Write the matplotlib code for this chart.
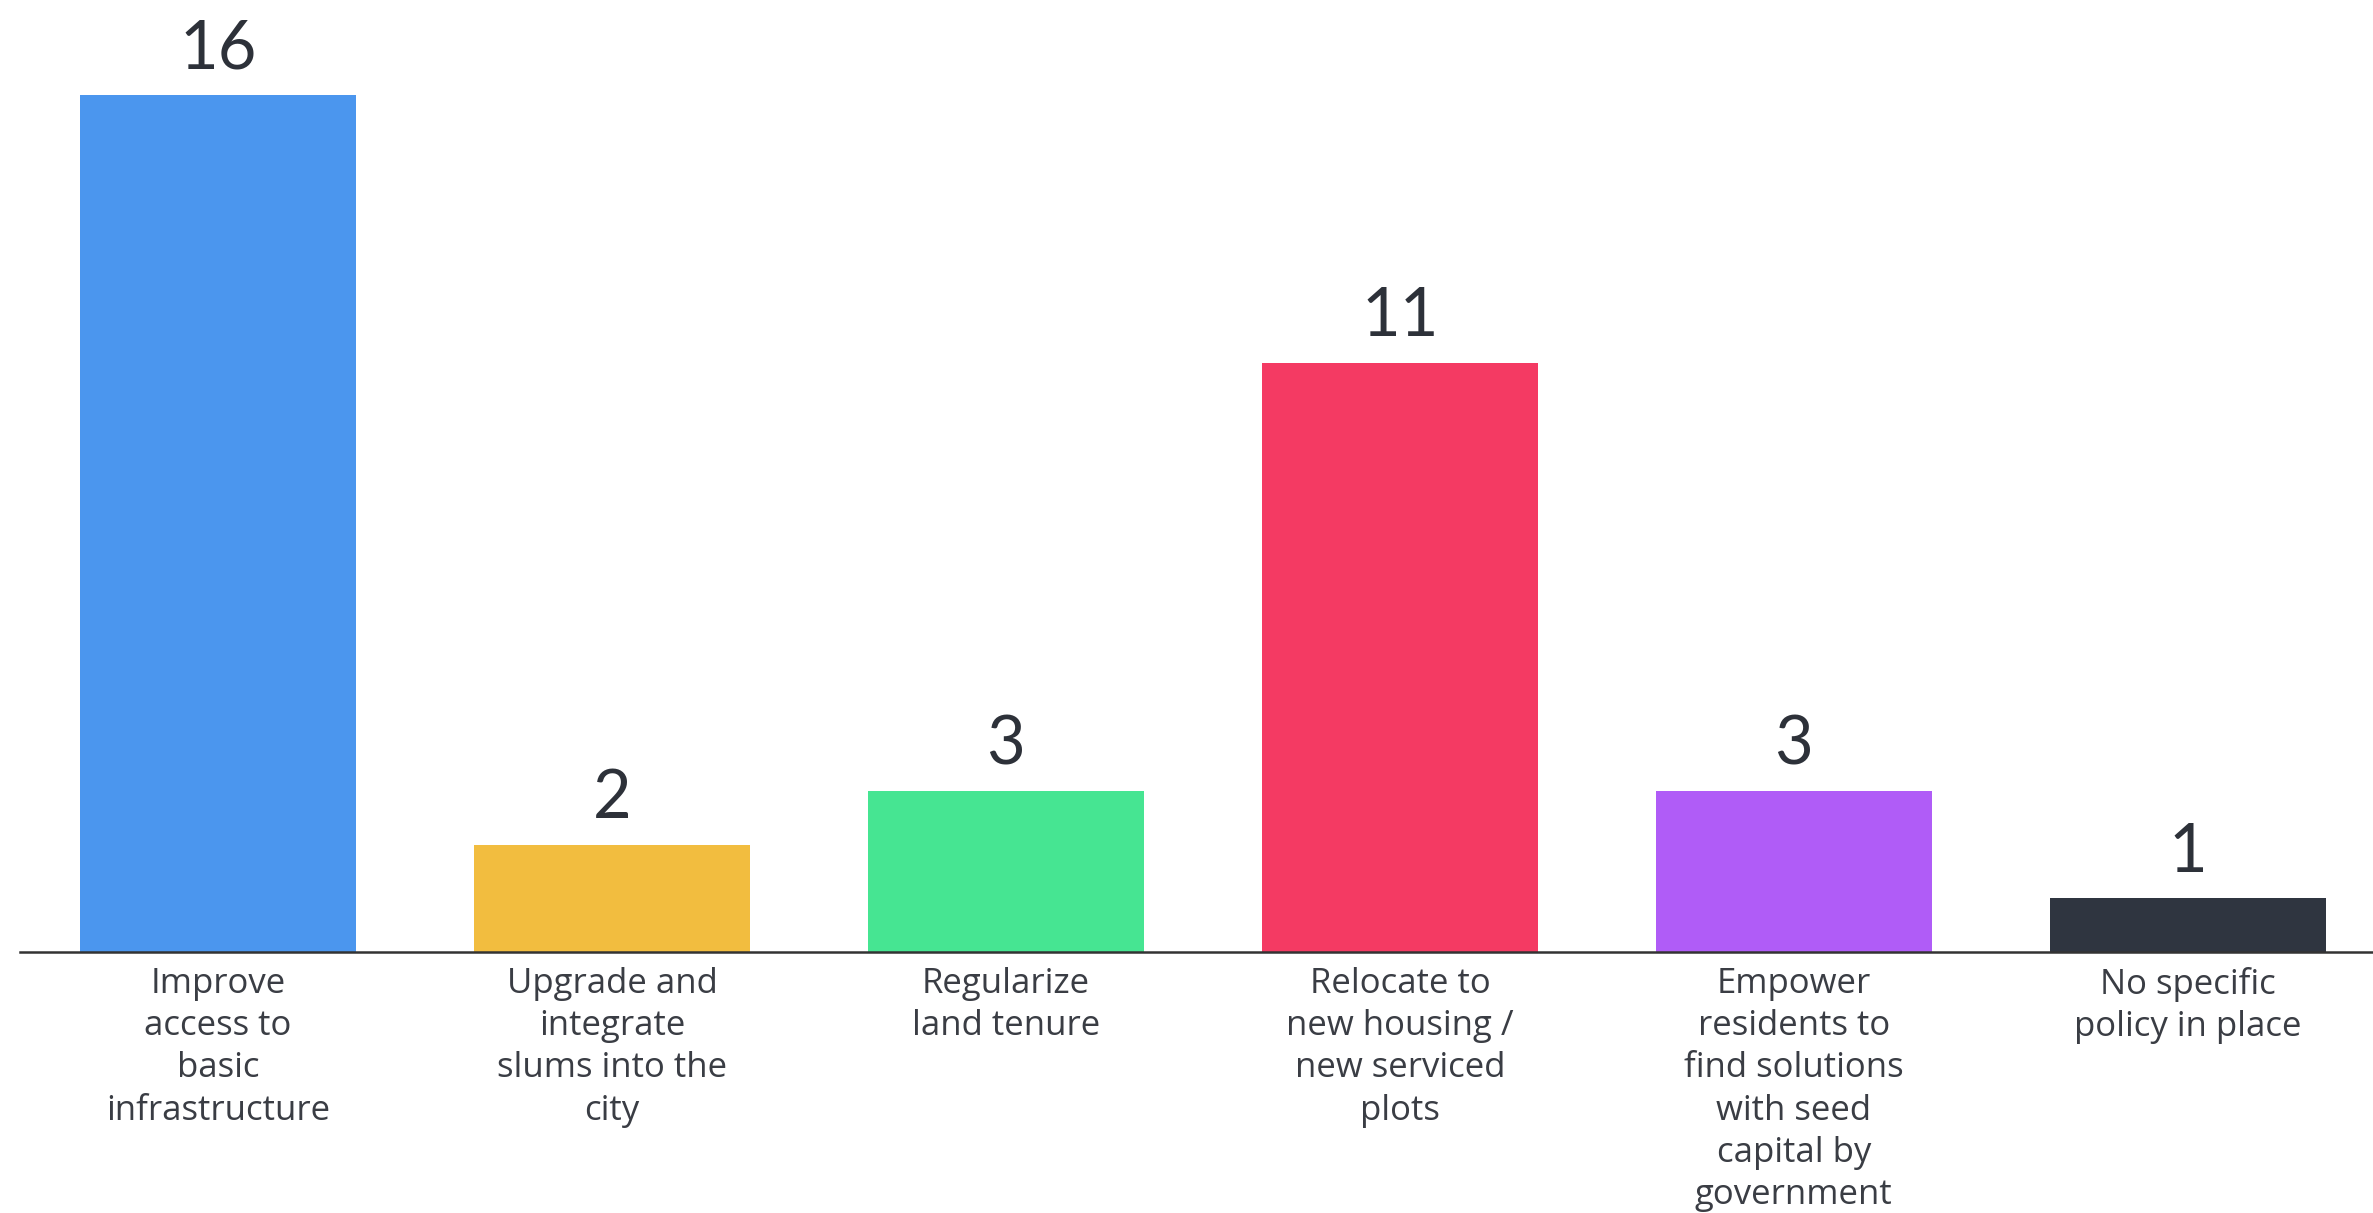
#!/usr/bin/env python3
"""Bar chart: policies towards informal settlements (count of responses)."""
import matplotlib
matplotlib.use("Agg")
import matplotlib.pyplot as plt

CATEGORIES = [
    "Improve\naccess to\nbasic\ninfrastructure",
    "Upgrade and\nintegrate\nslums into the\ncity",
    "Regularize\nland tenure",
    "Relocate to\nnew housing /\nnew serviced\nplots",
    "Empower\nresidents to\nfind solutions\nwith seed\ncapital by\ngovernment",
    "No specific\npolicy in place",
]
VALUES = [16, 2, 3, 11, 3, 1]
COLORS = ["#4b96ee", "#f2bd3f", "#46e592", "#f43a63", "#b05cf7", "#2f3540"]

W, H = 2373, 1213
DPI = 100


def main():
    plt.rcParams["font.family"] = ["Lato", "DejaVu Sans"]
    fig = plt.figure(figsize=(W / DPI, H / DPI), dpi=DPI)
    base_px = 952
    ax = fig.add_axes([20 / W, (H - base_px) / H, 1 - 20 / W, 942.7 / H])

    x = list(range(len(VALUES)))
    bars = ax.bar(x, VALUES, width=0.7, color=COLORS, zorder=2)
    for b, v in zip(bars, VALUES):
        ax.annotate(str(v), (b.get_x() + b.get_width() / 2, v),
                    xytext=(0, 19), textcoords="offset points",
                    ha="center", va="baseline", fontsize=48,
                    color="#2d3139")

    ax.set_xlim(-0.5025, 5.47)
    ax.set_ylim(0, 17.6)
    ax.set_xticks(x)
    ax.set_xticklabels(CATEGORIES, fontsize=25, color="#3a3d44",
                       linespacing=1.32, va="top",
                       family=["Open Sans", "DejaVu Sans"])
    ax.tick_params(axis="x", length=0, pad=10.5)
    ax.set_yticks([])
    for side in ("top", "left", "right"):
        ax.spines[side].set_visible(False)
    ax.spines["bottom"].set_color("#333333")
    ax.spines["bottom"].set_linewidth(1.8)
    ax.spines["bottom"].set_zorder(3)
    ax.patch.set_visible(False)

    fig.savefig("out.png", dpi=DPI, facecolor="white")
    plt.close(fig)


if __name__ == "__main__":
    main()
